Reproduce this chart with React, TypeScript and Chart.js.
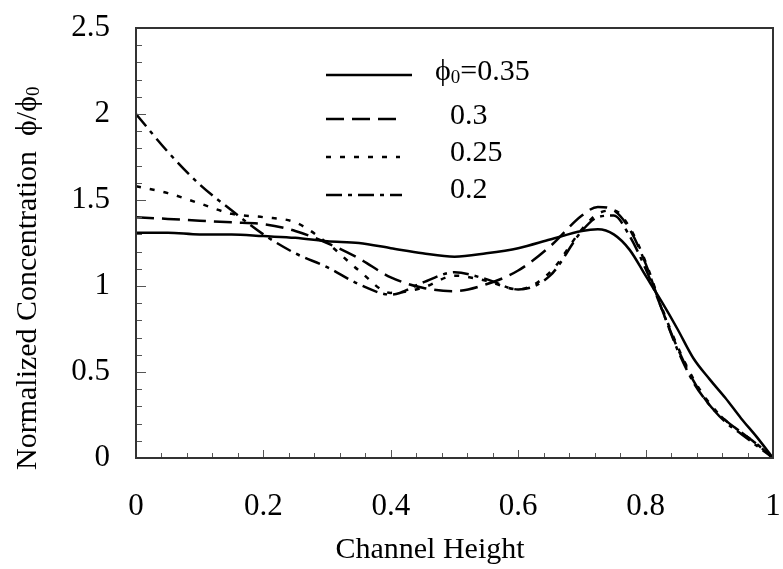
import React, { useEffect, useRef } from "react";
import { Chart, registerables } from "chart.js";

Chart.register(...registerables);

// Channel height positions (x) shared by all series
const channelHeight = [0, 0.05, 0.1, 0.15, 0.2, 0.25, 0.3, 0.35, 0.4, 0.45, 0.5, 0.55, 0.6, 0.65, 0.7, 0.725, 0.75, 0.775, 0.8, 0.825, 0.85, 0.875, 0.9, 0.925, 0.95, 0.975, 1];

// Normalized concentration phi/phi0 for each bulk concentration phi0
const phi035 = [1.31, 1.31, 1.3, 1.3, 1.29, 1.28, 1.26, 1.25, 1.22, 1.19, 1.17, 1.19, 1.22, 1.27, 1.32, 1.33, 1.3, 1.21, 1.06, 0.91, 0.75, 0.58, 0.46, 0.35, 0.23, 0.12, 0.0];
const phi030 = [1.4, 1.39, 1.38, 1.37, 1.36, 1.32, 1.25, 1.16, 1.05, 0.99, 0.97, 1.01, 1.09, 1.23, 1.41, 1.46, 1.44, 1.33, 1.13, 0.87, 0.64, 0.45, 0.31, 0.22, 0.15, 0.08, 0.0];
const phi025 = [1.58, 1.54, 1.48, 1.42, 1.4, 1.37, 1.25, 1.09, 0.96, 0.99, 1.06, 1.03, 0.98, 1.08, 1.33, 1.42, 1.44, 1.34, 1.14, 0.88, 0.65, 0.46, 0.32, 0.22, 0.15, 0.08, 0.0];
const phi020 = [2.0, 1.78, 1.59, 1.44, 1.3, 1.19, 1.11, 1.01, 0.95, 1.02, 1.08, 1.04, 0.98, 1.06, 1.32, 1.4, 1.41, 1.29, 1.1, 0.87, 0.63, 0.44, 0.31, 0.21, 0.14, 0.07, 0.0];

const seriesLabels = ["0.35", "0.3", "0.25", "0.2"];
const xTickValues = [0, 0.2, 0.4, 0.6, 0.8, 1];
const yTickValues = [0, 0.5, 1, 1.5, 2, 2.5];
const xTitle = "Channel Height";
const yTitle = "Normalized Concentration  ϕ/ϕ";
const PHI = "ϕ";

const FONT = "'Liberation Serif', 'Times New Roman', serif";
const DASHES: number[][] = [[], [18, 8], [5, 9], [16, 6, 4, 6]];

const decorPlugin = {
  id: "decor",
  afterDatasetsDraw(chart: any) {
    const { ctx, chartArea: a, scales } = chart;
    const xs = scales.x;
    const ys = scales.y;
    ctx.save();
    // inward minor/major ticks
    ctx.strokeStyle = "#555";
    ctx.lineWidth = 1;
    ctx.setLineDash([]);
    for (let i = 0; i <= 25; i++) {
      const py = Math.round(ys.getPixelForValue(i * 0.1)) + 0.5;
      const len = i % 5 === 0 ? 10 : 6;
      ctx.beginPath();
      ctx.moveTo(a.left, py);
      ctx.lineTo(a.left + len, py);
      ctx.stroke();
    }
    for (let i = 0; i <= 25; i++) {
      const px = Math.round(xs.getPixelForValue(i * 0.04)) + 0.5;
      const len = i % 5 === 0 ? 8 : 5;
      ctx.beginPath();
      ctx.moveTo(px, a.bottom);
      ctx.lineTo(px, a.bottom - len);
      ctx.stroke();
    }
    // frame
    ctx.strokeStyle = "#333";
    ctx.lineWidth = 2;
    ctx.strokeRect(a.left, a.top, a.right - a.left, a.bottom - a.top);

    // legend
    const lx0 = 326;
    const lineEnds = [412, 402, 400, 402];
    const lineYs = [75, 119, 157, 195];
    const textYs = [72, 116, 153, 190];
    ctx.strokeStyle = "#000";
    ctx.lineWidth = 2.5;
    for (let i = 0; i < 4; i++) {
      ctx.setLineDash(DASHES[i]);
      ctx.beginPath();
      ctx.moveTo(lx0, lineYs[i]);
      ctx.lineTo(lineEnds[i], lineYs[i]);
      ctx.stroke();
    }
    ctx.setLineDash([]);
    ctx.fillStyle = "#000";
    ctx.textBaseline = "middle";
    ctx.textAlign = "left";
    ctx.font = `30px ${FONT}`;
    let tx = 435;
    ctx.fillText(PHI, tx, textYs[0]);
    tx += ctx.measureText(PHI).width;
    ctx.font = `19px ${FONT}`;
    ctx.fillText("0", tx, textYs[0] + 6);
    tx += ctx.measureText("0").width;
    ctx.font = `30px ${FONT}`;
    ctx.fillText("=" + seriesLabels[0], tx, textYs[0]);
    for (let i = 1; i < 4; i++) {
      ctx.fillText(seriesLabels[i], 450, textYs[i]);
    }

    // x axis title
    ctx.textAlign = "center";
    ctx.font = `30px ${FONT}`;
    ctx.fillText(xTitle, 430, 550);

    // y axis title (rotated, starting near the bottom) with subscript 0
    ctx.translate(28, 470);
    ctx.rotate(-Math.PI / 2);
    ctx.textAlign = "left";
    ctx.font = `30px ${FONT}`;
    const mainW = ctx.measureText(yTitle).width;
    ctx.fillText(yTitle, 0, 0);
    ctx.font = `19px ${FONT}`;
    ctx.fillText("0", mainW, 6);
    ctx.restore();
  },
};

export default function App() {
  const ref = useRef<HTMLCanvasElement | null>(null);
  useEffect(() => {
    if (!ref.current) return;
    const series = [phi035, phi030, phi025, phi020];
    const chart = new Chart(ref.current, {
      type: "line",
      data: {
        datasets: series.map((vals, i) => ({
          label: seriesLabels[i],
          data: channelHeight.map((x, j) => ({ x, y: vals[j] })),
          borderColor: "#000",
          borderWidth: 2.5,
          borderDash: DASHES[i],
          pointRadius: 0,
          fill: false,
          cubicInterpolationMode: "monotone" as const,
        })),
      },
      options: {
        animation: false,
        responsive: false,
        devicePixelRatio: 1,
        layout: { padding: { top: 28, right: 10, left: 0, bottom: 0 } },
        plugins: { legend: { display: false }, tooltip: { enabled: false } },
        scales: {
          x: {
            type: "linear",
            min: 0,
            max: 1,
            grid: { display: false, drawTicks: false },
            border: { display: false },
            afterBuildTicks: (s: any) => {
              s.ticks = xTickValues.map((v) => ({ value: v }));
            },
            afterFit: (s: any) => {
              s.height = 111;
              s.paddingLeft = 0;
              s.paddingRight = 0;
            },
            ticks: {
              color: "#000",
              padding: 30,
              maxRotation: 0,
              font: { family: FONT, size: 31 },
              callback: (v: any) => String(v),
            },
            title: { display: false },
          },
          y: {
            type: "linear",
            min: 0,
            max: 2.5,
            grid: { display: false, drawTicks: false },
            border: { display: false },
            afterBuildTicks: (s: any) => {
              s.ticks = yTickValues.map((v) => ({ value: v }));
            },
            afterFit: (s: any) => {
              s.width = 136;
              s.paddingTop = 0;
              s.paddingBottom = 0;
            },
            ticks: {
              color: "#000",
              padding: 26,
              font: { family: FONT, size: 31 },
              callback: (v: any) => String(v),
            },
            title: { display: false },
          },
        },
      },
      plugins: [decorPlugin],
    });
    return () => chart.destroy();
  }, []);
  return (
    <div style={{ position: "fixed", left: 0, top: 0, width: 783, height: 569, background: "#fff" }}>
      <canvas ref={ref} width={783} height={569} style={{ width: 783, height: 569, display: "block" }} />
    </div>
  );
}
